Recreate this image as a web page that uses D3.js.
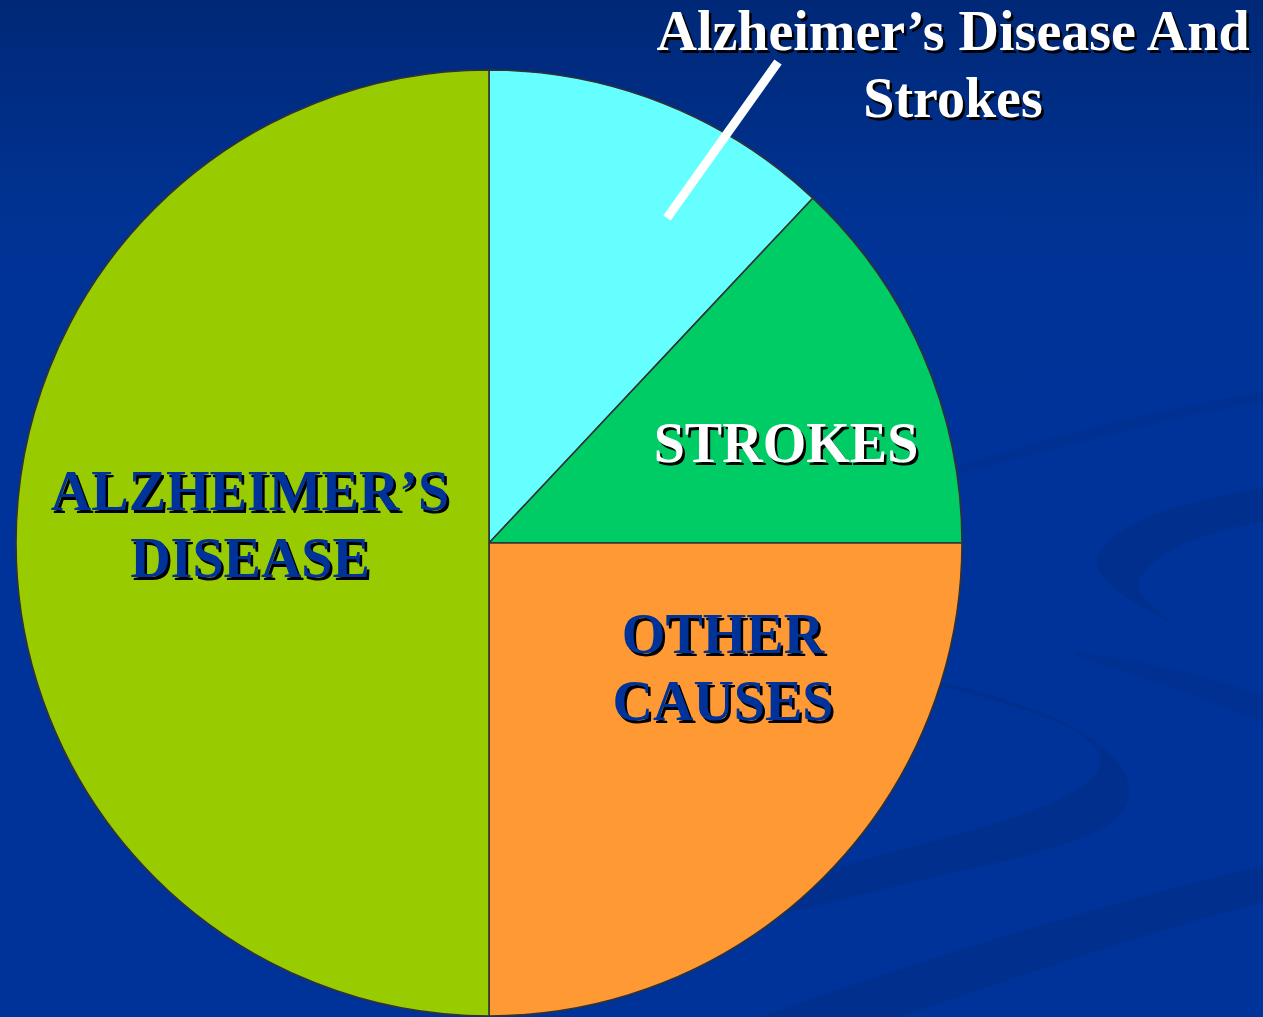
<!DOCTYPE html>
<html>
<head>
  <meta charset="utf-8">
  <title>Alzheimer's Disease Pie</title>
  <script src="https://d3js.org/d3.v7.min.js"></script>
  <style>
    html, body { margin: 0; padding: 0; background: #003399; overflow: hidden; }
    svg { display: block; }
  </style>
</head>
<body>
  <div id="chartContainer"></div>
  <script type="text/javascript">
  // chart data
  var categories = ["Alzheimer's Disease And Strokes", "Strokes", "Other Causes", "Alzheimer's Disease"];
  var values = [12, 13, 25, 50];
  var sliceColors = ["#66ffff", "#00cc66", "#ff9933", "#99cc00"];
  var sliceLabels = [[], ["STROKES"], ["OTHER", "CAUSES"], ["ALZHEIMER\u2019S", "DISEASE"]];
  var calloutLines = ["Alzheimer\u2019s Disease And", "Strokes"];

  var W = 1263, H = 1017;
  var cx = 489, cy = 543, R = 473;

  var svg = d3.select("#chartContainer").append("svg")
    .attr("width", W).attr("height", H);

  // background gradient + swirls
  var defs = svg.append("defs");
  var grad = defs.append("linearGradient").attr("id", "bg")
    .attr("x1", 0).attr("y1", 0).attr("x2", 0).attr("y2", 1);
  grad.append("stop").attr("offset", "0%").attr("stop-color", "#002877");
  grad.append("stop").attr("offset", "22%").attr("stop-color", "#003394");
  grad.append("stop").attr("offset", "40%").attr("stop-color", "#003399");
  grad.append("stop").attr("offset", "100%").attr("stop-color", "#003399");
  svg.append("rect").attr("width", W).attr("height", H).attr("fill", "url(#bg)");

  var swirl = svg.append("g").attr("fill", "#002f8a").attr("opacity", 0.8);
  // faint band at right of strokes slice
  swirl.append("path").attr("d",
    "M930,475 C1040,440 1150,410 1263,392 L1263,402 C1150,420 1040,455 930,480 Z").attr("opacity", 0.6);
  // crescent
  swirl.append("path").attr("d",
    "M1263,488 C1190,500 1110,520 1097,560 C1095,585 1140,605 1170,622 " +
    "C1145,600 1130,585 1142,575 C1160,548 1210,530 1263,522 Z");
  // faint band middle right
  swirl.append("path").attr("d",
    "M1075,652 C1150,660 1220,680 1263,696 L1263,722 C1210,700 1150,680 1075,656 Z").attr("opacity", 0.6);
  // S curve
  swirl.append("path").attr("d",
    "M930,680 C1000,695 1070,718 1100,745 C1125,765 1140,790 1120,815 " +
    "C1090,845 1000,862 930,878 C870,892 820,905 700,935 L700,905 " +
    "C780,885 860,860 930,842 C1010,820 1060,805 1090,780 C1110,762 1100,745 1070,728 " +
    "C1030,710 980,695 930,684 Z");
  // bottom diagonal band
  swirl.append("path").attr("d",
    "M1263,866 C1100,905 950,950 760,1017 L900,1017 C1020,975 1140,935 1263,902 Z");

  // pie
  var pie = d3.pie().sort(null).value(function (d) { return d; });
  var arc = d3.arc().innerRadius(0).outerRadius(R);
  var arcs = pie(values);

  var g = svg.append("g").attr("transform", "translate(" + cx + "," + cy + ")");
  g.selectAll("path.slice")
    .data(arcs)
    .enter()
    .append("path")
    .attr("class", "slice")
    .attr("d", arc)
    .attr("fill", function (d, i) { return sliceColors[i]; })
    .attr("stroke", "#333333")
    .attr("stroke-width", 1.6)
    .attr("stroke-linejoin", "round");

  // text with black drop shadow
  function shadowText(parent, lines, x, y0, lh, fill) {
    lines.forEach(function (t, k) {
      var y = y0 + k * lh;
      parent.append("text")
        .attr("x", x + 2.5).attr("y", y + 2.5)
        .attr("text-anchor", "middle")
        .style("font-family", "'Liberation Serif', 'Times New Roman', serif")
        .style("font-weight", "bold").style("font-size", "56px")
        .attr("fill", "#000000")
        .text(t);
      parent.append("text")
        .attr("x", x).attr("y", y)
        .attr("text-anchor", "middle")
        .style("font-family", "'Liberation Serif', 'Times New Roman', serif")
        .style("font-weight", "bold").style("font-size", "56px")
        .attr("fill", fill)
        .text(t);
    });
  }

  // slice label placement (offsets from pie centre)
  var labelPos = [null, [297, -81], [234, 110], [-239, -33]];
  var labelFill = [null, "#ffffff", "#003399", "#003399"];
  sliceLabels.forEach(function (lines, i) {
    if (!lines.length) return;
    shadowText(g, lines, labelPos[i][0], labelPos[i][1], 67, labelFill[i]);
  });

  // callout for first slice
  svg.append("line")
    .attr("x1", 667).attr("y1", 218)
    .attr("x2", 778).attr("y2", 62)
    .attr("stroke", "#ffffff").attr("stroke-width", 9);
  shadowText(svg, calloutLines, 953, 50, 67, "#ffffff");
  </script>
</body>
</html>
